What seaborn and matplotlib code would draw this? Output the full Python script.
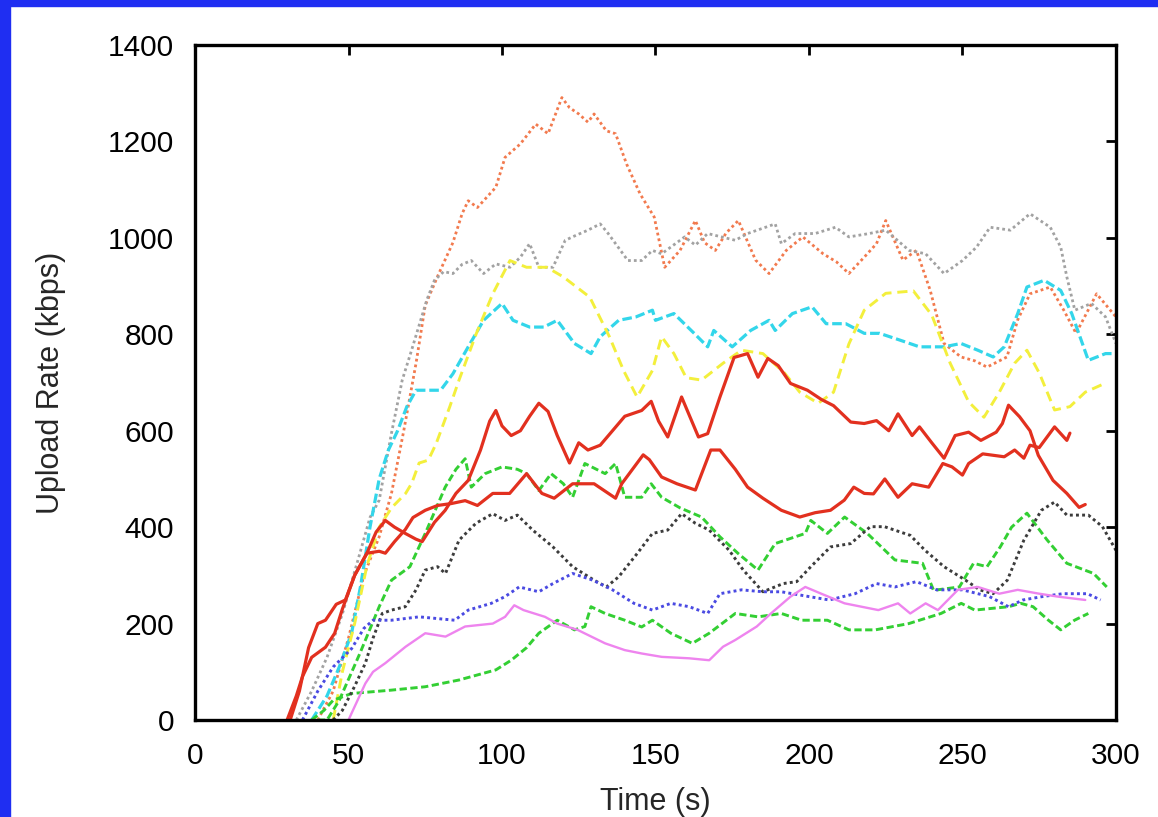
import numpy as np
import pandas as pd
import seaborn as sns
import matplotlib.pyplot as plt
from matplotlib.patches import Rectangle

# series: time (s) and upload rate (kbps)
orange_t = [40, 45, 50, 55, 60, 64, 68, 72, 75, 79, 84, 87, 89, 92, 98, 101, 106, 111, 115, 119.5, 122, 125, 128,
            130, 134, 137, 140.6, 145, 149.6, 153, 158, 163, 166, 169.5, 173, 177, 182.6, 187, 192.6, 198, 204.6,
            209, 213, 218, 222, 225, 230.6, 235, 239.5, 244, 249.5, 254, 258, 264.5, 268, 272, 278.6, 283, 287,
            293.7, 300]
orange_v = [0, 60, 170, 300, 380, 470, 600, 740, 860, 920, 990, 1050, 1077, 1063, 1105, 1167, 1195, 1236, 1216,
            1291, 1270, 1257, 1240, 1257, 1222, 1216, 1153, 1091, 1043, 939, 974, 1036, 990, 974, 1010, 1036, 954,
            926, 974, 1002, 967, 950, 926, 960, 988, 1036, 954, 974, 891, 781, 753, 745, 732, 753, 830, 884, 898,
            850, 802, 884, 836]

grey_t = [33, 38, 43, 48, 53, 57, 60, 64, 67.5, 70.5, 75.5, 78, 81, 84, 87, 90, 94, 98, 102.6, 106, 109, 112,
          116.6, 120.6, 124, 128, 132, 134.6, 141, 145.5, 149, 152, 159.5, 163, 167, 176, 180, 189, 191, 195.5,
          202, 208.6, 213, 219.6, 225, 232.6, 238, 244, 250, 254.6, 259, 265.6, 272, 278.6, 282, 284, 286.6, 292,
          296.6, 300]
grey_v = [0, 60, 130, 220, 330, 420, 456, 595, 705, 766, 871, 912, 930, 926, 945, 953, 926, 946, 939, 960, 988,
          939, 939, 995, 1005, 1016, 1029, 1009, 953, 953, 974, 967, 1002, 985, 1009, 995, 1009, 1029, 988, 1009,
          1009, 1022, 1002, 1009, 1016, 974, 967, 926, 953, 981, 1022, 1016, 1050, 1022, 981, 919, 850, 864, 836,
          781]

cyan_t = [38, 43, 47, 51, 54, 57, 60, 63, 66, 69, 72, 75, 80, 84, 89, 94, 100, 103.6, 109, 113.6, 118, 123.6,
          129, 132, 138, 143.6, 149, 150, 156, 162.6, 167, 169, 175, 181, 187, 189, 194.6, 201, 205.6, 212, 218,
          223, 229.6, 236, 244, 249.5, 255, 260, 263.6, 268, 271, 276.6, 282, 285.6, 291, 296.6, 300]
cyan_v = [0, 50, 110, 180, 280, 400, 500, 560, 600, 650, 684, 684, 684, 718, 774, 829, 864, 829, 815, 815, 829,
          781, 760, 795, 829, 836, 850, 829, 843, 802, 774, 808, 774, 808, 829, 808, 843, 857, 822, 822, 802, 802,
          788, 774, 774, 781, 767, 753, 774, 843, 898, 912, 891, 843, 746, 760, 760]

yellow_t = [45, 48, 52, 56, 60, 64, 68.6, 70.6, 73, 76, 78.6, 83, 86, 91.6, 97, 102.6, 108, 114.6, 120, 128.6,
            135, 139.6, 144, 149, 152, 156, 160, 165, 172, 178, 185, 192, 197, 203, 208, 213, 218, 225, 234, 240,
            246, 252, 257, 262, 267, 271, 275, 280, 285, 290, 297]
yellow_v = [0, 100, 200, 320, 400, 440, 470, 491, 533, 539, 574, 650, 705, 801, 884, 953, 939, 939, 919, 877, 795,
            725, 670, 725, 795, 760, 710, 705, 740, 767, 760, 720, 680, 657, 680, 780, 850, 885, 890, 840, 740, 660,
            628, 680, 740, 767, 720, 643, 650, 680, 700]

red1_t = [31, 34, 37, 40, 42.5, 46, 49, 52, 56, 59, 62, 65, 68.5, 72, 74, 78, 81.5, 85, 89, 93, 96, 98, 100, 103,
          106, 109, 112, 115, 118, 122, 125, 128, 132, 136, 140, 145.5, 148.6, 151, 154, 158.5, 164, 167, 171,
          175.6, 180, 183.4, 186.6, 190, 194, 199.5, 204, 208, 213.6, 218, 222, 226, 229, 233.6, 236, 240, 244,
          247.6, 252, 256, 261, 263, 265, 268.6, 272, 274.7, 279.5, 284, 288, 290]
red1_v = [0, 60, 150, 200, 207, 240, 249, 300, 346, 390, 414, 400, 387, 375, 370, 410, 435, 470, 497, 560, 620,
          642, 610, 590, 600, 630, 657, 640, 590, 533, 575, 560, 570, 600, 630, 642, 661, 620, 587, 670, 587, 594,
          670, 752, 760, 711, 750, 735, 698, 684, 665, 652, 618, 615, 621, 600, 635, 590, 608, 575, 543, 590, 597,
          580, 597, 615, 653, 629, 600, 549, 497, 470, 441, 447]

red2_t = [30, 33, 35, 38, 42.5, 45.5, 48, 52, 56, 60, 62, 65, 68.5, 71, 75, 79, 83.5, 88, 92, 97, 102.5, 108, 113,
          117, 123, 130, 137, 139, 146, 148, 152, 157, 163, 168, 171, 176, 180, 185, 191, 197, 202, 207, 211.5,
          214.6, 218, 221, 224.7, 229, 233.6, 239, 243.6, 246.6, 250, 252, 256.6, 263.6, 267, 270, 272, 275, 280,
          284, 285]
red2_v = [0, 50, 90, 130, 151, 180, 230, 300, 346, 350, 346, 370, 395, 420, 435, 445, 449, 455, 445, 470, 470, 511,
          470, 460, 490, 490, 460, 490, 550, 540, 504, 490, 477, 560, 560, 520, 483, 460, 435, 421, 430, 435, 456,
          483, 470, 469, 500, 462, 490, 483, 532, 525, 508, 532, 552, 546, 560, 543, 570, 565, 608, 580, 595]

green1_t = [40, 43, 47, 53.7, 60, 64, 70, 75, 81.5, 85, 88, 90, 94.5, 100, 105, 108, 112, 116, 120, 123, 127,
            133.6, 137, 140, 145.5, 148.6, 152, 158, 165, 171, 177, 183.4, 189, 198.8, 200.6, 206, 211.6, 219, 228,
            237, 240.6, 249, 253.6, 258, 262.3, 266, 271, 277.5, 284, 292.7, 297]
green1_v = [0, 0, 41, 138, 235, 290, 318, 387, 483, 520, 542, 483, 511, 525, 520, 511, 476, 511, 490, 462, 532,
            511, 532, 462, 462, 490, 462, 440, 421, 380, 345, 311, 366, 387, 414, 387, 421, 387, 332, 325, 269, 276,
            325, 318, 359, 400, 429, 374, 325, 304, 276]

green2_t = [38, 42, 45, 51, 64, 75, 86, 98, 103, 108, 112, 118, 123.6, 127, 129, 133.6, 140, 145.5, 149, 155,
            162, 167.5, 176, 183.4, 191, 197.6, 206, 213, 221.6, 232.5, 243, 249.6, 254, 265, 269, 273, 278, 282,
            286.5, 291]
green2_v = [0, 20, 41, 55, 62, 69, 83, 104, 124, 150, 180, 207, 187, 194, 235, 221, 207, 193, 207, 180, 159, 180,
            221, 214, 221, 207, 207, 187, 187, 200, 221, 242, 228, 235, 242, 235, 207, 187, 207, 221]

black_t = [45, 48, 52, 55.5, 58, 61, 64, 68.5, 72, 75, 79, 81.6, 86, 91.5, 97, 101, 105, 110, 116.6, 123, 130,
           134, 138, 144, 149, 154, 158.5, 163, 167.5, 174, 178.6, 185, 191.6, 196, 200.6, 207, 213.6, 220, 224.6,
           233, 237.8, 244, 251, 255.6, 260, 264.6, 270, 275.7, 280, 284, 291, 295.6, 300]
black_v = [0, 20, 70, 118, 170, 221, 228, 235, 270, 311, 318, 304, 373, 408, 428, 414, 425, 394, 359, 318, 290,
           276, 297, 345, 387, 394, 428, 408, 394, 352, 311, 266, 283, 287, 318, 359, 366, 401, 401, 383, 352, 318,
           290, 270, 262, 290, 373, 435, 452, 425, 425, 401, 352]

blue_t = [35, 40, 45, 51, 55, 58, 64, 73, 84.6, 89, 96.5, 101, 105.6, 112, 116.6, 123, 129.6, 136, 143, 149, 155,
          161, 167, 171, 178, 185, 191, 200, 206.6, 215, 222, 228, 235, 241.6, 250, 258.8, 265, 269.7, 276, 282.7,
          290.7, 295]
blue_v = [0, 60, 110, 148, 190, 207, 207, 214, 207, 228, 242, 256, 276, 266, 283, 304, 290, 270, 242, 228, 242,
          235, 221, 262, 270, 266, 266, 256, 249, 262, 283, 276, 287, 270, 270, 256, 235, 249, 256, 262, 262, 249]

violet_t = [50, 51, 55.5, 58, 62, 68.6, 75, 81.6, 88, 97, 101, 104, 107, 114, 118, 124.6, 133.6, 140, 145.5, 152,
            161, 167.5, 172, 176, 183, 187.6, 194, 198.8, 204, 211.6, 222.6, 229, 233, 238, 242, 248.5, 255, 262,
            268, 275, 281, 290]
violet_v = [0, 14, 76, 100, 118, 152, 180, 173, 194, 200, 214, 238, 228, 214, 200, 187, 159, 145, 138, 131, 128,
            124, 152, 166, 194, 221, 256, 276, 262, 242, 228, 242, 221, 242, 228, 270, 276, 262, 270, 262, 256, 249]

sns.set_theme(style="white")
plt.rcParams['font.family'] = ['Liberation Sans', 'DejaVu Sans']

fig = plt.figure(figsize=(11.58, 8.17), dpi=100)
fig.patch.set_facecolor("white")
fig.patches.append(Rectangle((0, 0), 10 / 1158, 1, transform=fig.transFigure, color="#1f2ef2", zorder=0))
fig.patches.append(Rectangle((0, 1 - 6 / 817), 1, 6 / 817, transform=fig.transFigure, color="#1f2ef2", zorder=0))

ax = fig.add_axes([0.1684, 0.1187, 0.7953, 0.8262])

dot = (0, (1, 1.1))
series = [
    (orange_t, orange_v, "#f27a4e", dot, 2.0),
    (grey_t, grey_v, "#a2a2a2", dot, 2.0),
    (cyan_t, cyan_v, "#33d6ea", (0, (3, 1.2)), 2.3),
    (yellow_t, yellow_v, "#f3ef3c", (0, (3.5, 2)), 2.1),
    (green1_t, green1_v, "#33cf33", (0, (2.5, 1.2)), 2.1),
    (green2_t, green2_v, "#33cf33", (0, (2.5, 1.2)), 2.1),
    (black_t, black_v, "#3c3c3c", dot, 2.1),
    (blue_t, blue_v, "#4a4ae2", dot, 2.1),
    (violet_t, violet_v, "#ee84ee", "-", 1.7),
    (red1_t, red1_v, "#e2301f", "-", 2.3),
    (red2_t, red2_v, "#e2301f", "-", 2.3),
]
for t, v, col, ls, lw in series:
    sns.lineplot(x=t, y=v, ax=ax, color=col, linestyle=ls, linewidth=lw)

ax.set_xlim(0, 300)
ax.set_ylim(0, 1400)
ax.set_xticks(range(0, 301, 50))
ax.set_yticks(range(0, 1401, 200))
for s in ax.spines.values():
    s.set_visible(True)
    s.set_color("black")
    s.set_linewidth(2.4)
ax.tick_params(direction="in", length=7, width=2, top=True, right=True,
               labelsize=21.5, colors="black")
ax.tick_params(axis="y", pad=15)
ax.tick_params(axis="x", pad=16)
ax.set_xlabel("Time (s)", fontsize=22, labelpad=12)
ax.set_ylabel("Upload Rate (kbps)", fontsize=22, labelpad=30)

plt.savefig("out.png", dpi=100)
